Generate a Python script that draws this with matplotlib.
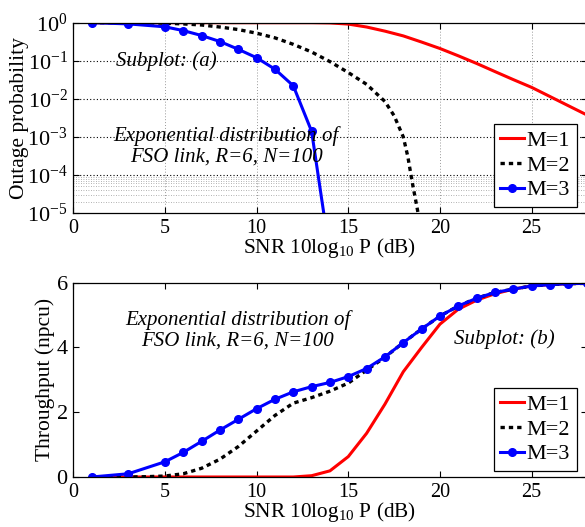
import numpy as np
import matplotlib
matplotlib.use("Agg")
import matplotlib.pyplot as plt

plt.rcParams['font.family'] = 'Liberation Serif'
plt.rcParams['mathtext.fontset'] = 'custom'
plt.rcParams['mathtext.rm'] = 'Liberation Serif'
plt.rcParams['mathtext.it'] = 'Liberation Serif:italic'
plt.rcParams['font.size'] = 13.5

# --- data ---
snr = list(range(1, 29))

# subplot (a): outage probability
pout_m1 = [1.0] * 13 + [0.985, 0.92, 0.77, 0.6, 0.45, 0.31, 0.21, 0.135, 0.085,
                        0.052, 0.032, 0.02, 0.0115, 0.0066, 0.0038]
snr_m2 = list(range(1, 18)) + [17.5, 18, 18.25, 18.5, 18.75, 19]
pout_m2 = [1.0, 1.0, 1.0, 0.99, 0.97, 0.93, 0.87, 0.77, 0.66, 0.53, 0.4, 0.27,
           0.17, 0.095, 0.049, 0.024, 0.0085, 0.0036, 0.001, 3e-4, 6e-5, 1.4e-5, 3e-6]
snr_m3a = [1, 3, 5, 6, 7, 8, 9, 10, 11, 12, 13, 14]
pout_m3 = [1.0, 0.93, 0.78, 0.62, 0.46, 0.32, 0.2, 0.12, 0.06, 0.022, 0.0014, 8e-7]

# subplot (b): throughput
thr_m1 = [0] * 12 + [0.04, 0.19, 0.63, 1.35, 2.25, 3.25, 4.0, 4.72, 5.18, 5.46,
                     5.66, 5.8, 5.9, 5.94, 5.97, 5.98]
thr_m2 = [0, 0, 0, 0.01, 0.03, 0.1, 0.27, 0.55, 0.94, 1.42, 1.9, 2.28, 2.45, 2.65,
          2.9, 3.3, 3.7, 4.15, 4.57, 4.97, 5.28, 5.52, 5.7, 5.8, 5.9, 5.94, 5.97, 5.98]
snr_m3b = [1, 3] + list(range(5, 29))
thr_m3 = [0, 0.1, 0.47, 0.76, 1.1, 1.45, 1.78, 2.11, 2.4, 2.63, 2.79, 2.92, 3.1,
          3.35, 3.71, 4.15, 4.57, 4.97, 5.28, 5.52, 5.7, 5.8, 5.9, 5.94, 5.97, 5.98]

labels = ['M=1', 'M=2', 'M=3']
note = 'Exponential distribution of\nFSO link, R=6, N=100'

W, H = 585, 527
fig = plt.figure(figsize=(W / 100, H / 100), dpi=100)

def px_axes(left, top, right, bottom):
    return fig.add_axes([left / W, 1 - bottom / H, (right - left) / W, (bottom - top) / H])

def style(ax):
    ax.tick_params(direction='in', top=True, right=True, length=4, width=0.8, pad=4)
    ax.tick_params(axis='x', labelsize=14.5)
    ax.tick_params(axis='y', labelsize=16)
    for s in ax.spines.values():
        s.set_linewidth(0.9)

def draw(ax, xs1, ys1, xs2, ys2, xs3, ys3):
    ax.plot(xs1, ys1, color='#ff0000', lw=2.2, label=labels[0])
    ax.plot(xs2, ys2, color='black', lw=2.4, ls=(0, (1.3, 1.2)), label=labels[1])
    ax.plot(xs3, ys3, color='#0000ff', lw=2.2, marker='o', ms=5.5, label=labels[2])

def legend(ax, right, bottom):
    leg = ax.legend(loc='lower right', bbox_to_anchor=(right / W, 1 - bottom / H),
                    bbox_transform=fig.transFigure, fancybox=False, framealpha=1,
                    edgecolor='black', handlelength=1.05, handletextpad=0.15,
                    labelspacing=0.18, borderpad=0.3, borderaxespad=0, fontsize=16)
    leg.get_frame().set_linewidth(0.9)

def ylab(ax, text, xpx):
    ax.set_ylabel(text, fontsize=15.5)
    ax.yaxis.label.set_verticalalignment('center')
    ax.yaxis.set_label_coords((xpx - 73.3) / 513.3, 0.5)

# (a) outage
ax1 = px_axes(73.3, 22.7, 586.6, 213)
draw(ax1, snr, pout_m1, snr_m2, pout_m2, snr_m3a, pout_m3)
ax1.set_yscale('log')
ax1.set_xlim(0, 28)
ax1.set_ylim(1e-5, 1)
ax1.set_xticks([0, 5, 10, 15, 20, 25])
ax1.set_yticks([1e-5, 1e-4, 1e-3, 1e-2, 1e-1, 1])
ax1.minorticks_off()
for v in [1e-4, 1e-3, 1e-2, 1e-1]:
    ax1.axhline(v, color='black', ls=(0, (1, 2)), lw=0.8, zorder=0.5)
for v in range(2, 10):
    ax1.axhline(v * 1e-5, color='#999999', ls=(0, (1, 2)), lw=0.6, zorder=0.5)
for v in [5, 10, 15, 20, 25]:
    ax1.axvline(v, color='#999999', ls=(0, (1, 2)), lw=0.7, zorder=0.5)
style(ax1)
ylab(ax1, 'Outage probability', 20)
ax1.set_xlabel('SNR 10log$_{10}$ P (dB)', fontsize=15.3, labelpad=-1)
ax1.text(5.1, 0.095, 'Subplot: (a)', style='italic', fontsize=15, ha='center', va='center')
ax1.text(8.35, 10 ** -3.24, note, style='italic', fontsize=15, ha='center', va='center',
         linespacing=1.1)
legend(ax1, 577, 207)

# (b) throughput
ax2 = px_axes(73.3, 282.7, 586.6, 477)
draw(ax2, snr, thr_m1, snr, thr_m2, snr_m3b, thr_m3)
ax2.set_xlim(0, 28)
ax2.set_ylim(0, 6)
ax2.set_xticks([0, 5, 10, 15, 20, 25])
ax2.set_yticks([0, 2, 4, 6])
style(ax2)
ylab(ax2, 'Throughput (npcu)', 45)
ax2.set_xlabel('SNR 10log$_{10}$ P (dB)', fontsize=15.3, labelpad=-1)
ax2.text(8.96, 4.52, note, style='italic', fontsize=15, ha='center', va='center',
         linespacing=1.1)
ax2.text(23.5, 4.26, 'Subplot: (b)', style='italic', fontsize=15, ha='center', va='center')
legend(ax2, 577, 471)

fig.savefig('out.png', dpi=100)
